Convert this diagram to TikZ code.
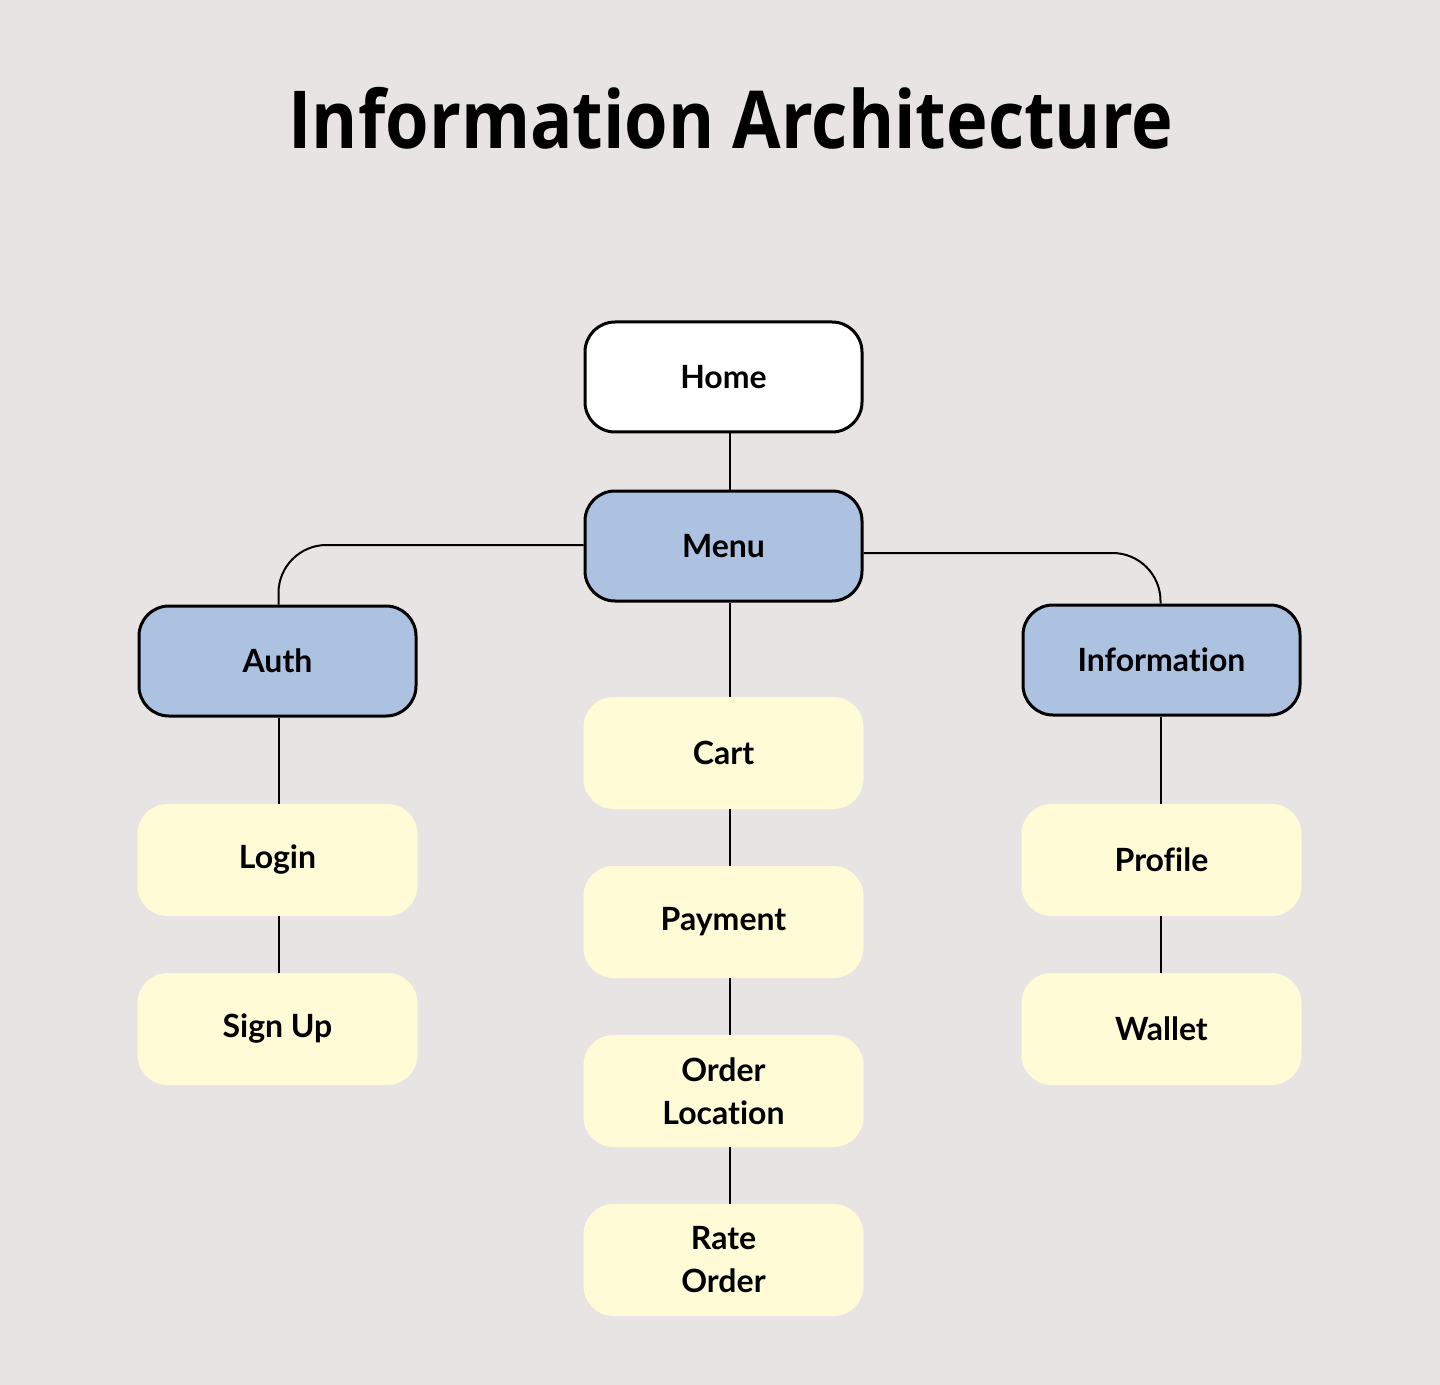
\documentclass[tikz,border=0pt]{standalone}
\usepackage{fontspec}
\setmainfont{Lato}[Ligatures=NoCommon]
\newfontfamily\titlefont[FakeStretch=0.88]{Open Sans}
\usepackage{xcolor}
\usetikzlibrary{positioning}
\definecolor{canvas}{RGB}{233,228,228}
\definecolor{level}{RGB}{172,194,224}
\definecolor{leaf}{RGB}{255,251,214}
\tikzset{
  box/.style={rounded corners=15pt, minimum width=138.5pt, minimum height=55pt,
    inner sep=0pt, align=center, font=\fontsize{16pt}{21.5pt}\selectfont\bfseries},
  homeBox/.style={box, draw, line width=1.5pt, fill=white},  % top page
  hubBox/.style={box, draw, line width=1.5pt, fill=level},   % sections
  pageBox/.style={box, fill=leaf, minimum width=140pt, minimum height=56pt}, % leaf pages
  link/.style={line width=1pt}
}

\begin{document}
\begin{tikzpicture}[x=0.5pt, y=-0.5pt]
  \fill[canvas] (0,0) rectangle (1440,1385);
  \useasboundingbox (0,0) rectangle (1440,1385);
  \node[font=\titlefont\fontsize{40pt}{48pt}\selectfont\bfseries] (title) at (731,118) {Information Architecture};
  % tree
  \node[homeBox] (home) at (723.5,377) {Home};
  \node[hubBox] (menu) at (723.5,546) {Menu};
  \node[hubBox] (auth) at (277.5,661) {Auth};
  \node[hubBox] (info) at (1161.5,660) {Information};
  % middle column
  \node[pageBox] (cart) at (723.5,753) {Cart};
  \node[pageBox] (pay) at (723.5,922) {Payment};
  \node[pageBox] (loc) at (723.5,1091) {Order\\Location};
  \node[pageBox] (rate) at (723.5,1260) {Rate\\Order};
  % side columns
  \node[pageBox] (login) at (277.5,860) {Login};
  \node[pageBox] (signup) at (277.5,1029) {Sign Up};
  \node[pageBox] (profile) at (1161.5,860) {Profile};
  \node[pageBox] (wallet) at (1161.5,1029) {Wallet};
  % links
  \draw[link] ([xshift=3pt]home.south) -- ([xshift=3pt]menu.north);
  \draw[link] ([xshift=3pt]menu.south) -- ([xshift=3pt]cart.north);
  \draw[link] ([xshift=3pt]cart.south) -- ([xshift=3pt]pay.north);
  \draw[link] ([xshift=3pt]pay.south) -- ([xshift=3pt]loc.north);
  \draw[link] ([xshift=3pt]loc.south) -- ([xshift=3pt]rate.north);
  \draw[link, rounded corners=24pt] ([yshift=0.5pt]menu.west) -| ([xshift=0.5pt]auth.north);
  \draw[link, rounded corners=24pt] ([yshift=-3.5pt]menu.east) -| ([xshift=-0.5pt]info.north);
  \draw[link] ([xshift=0.5pt]auth.south) -- ([xshift=0.5pt]login.north);
  \draw[link] ([xshift=0.5pt]login.south) -- ([xshift=0.5pt]signup.north);
  \draw[link] ([xshift=-0.5pt]info.south) -- ([xshift=-0.5pt]profile.north);
  \draw[link] ([xshift=-0.5pt]profile.south) -- ([xshift=-0.5pt]wallet.north);
\end{tikzpicture}
\end{document}
